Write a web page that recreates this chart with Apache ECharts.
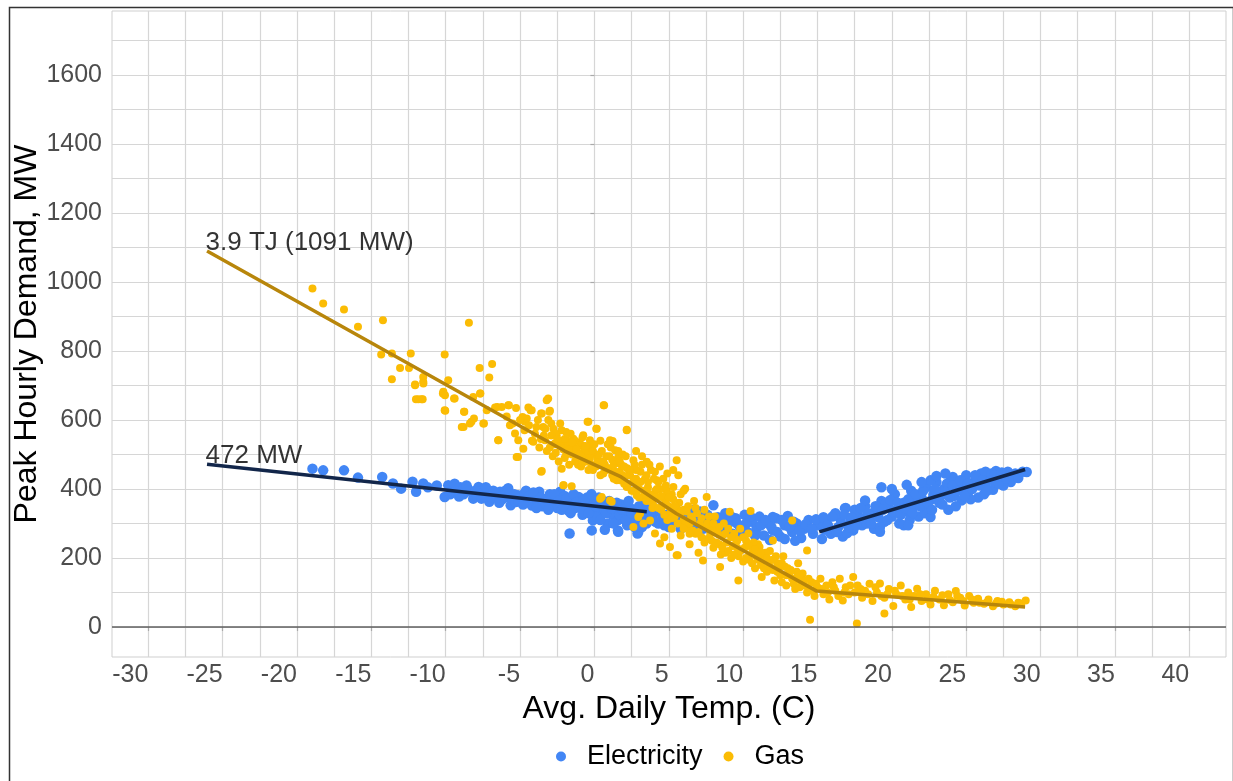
<!DOCTYPE html>
<html>
<head>
<meta charset="utf-8">
<script src="https://cdn.jsdelivr.net/npm/echarts@6/dist/echarts.min.js"></script>
<style>
html,body{margin:0;padding:0;background:#fff;}
#chart{width:1233px;height:781px;}
</style>
</head>
<body>
<div id="chart"></div>
<script>
// ---------- data ----------
const xMajorTicks = [-30,-25,-20,-15,-10,-5,0,5,10,15,20,25,30,35,40];
const xGridValues = [-30,-27.5,-25,-22.5,-20,-17.5,-15,-12.5,-10,-7.5,-5,-2.5,0,2.5,5,7.5,10,12.5,15,17.5,20,22.5,25,27.5,30,32.5,35,37.5,40];
const yMajorTicks = [0,200,400,600,800,1000,1200,1400,1600];
const yGridValues = [0,100,200,300,400,500,600,700,800,900,1000,1100,1200,1300,1400,1500,1600,1700];

const electricity = [
 [-18.96,459],[-18.24,454],[-16.84,454],[-15.9,433],[-14.27,435],[-13.55,416],[-13.0,401],[-12.23,421],[-11.51,416],[-11.99,392],
 [-11.2,405],[-10.6,410],[-9.83,411],[-10.07,377],[-9.23,392],[-8.51,401],[-7.79,406],[-7.43,382],[-8.15,372],[-7.07,363],
 [-6.35,392],[-5.87,377],[-5.63,353],[-5.14,382],[-4.43,367],[-3.71,392],[-3.23,372],[-2.62,377],[-2.02,363],[-1.78,338],
 [-1.06,377],[-0.58,338],[-0.1,309],[0.38,329],[-1.67,271],[1.58,280],[2.3,309],[2.9,271],[3.26,329],
 [-9.5,398],[-9.0,405],[-8.8,385],[-8.3,392],[-7.9,380],[-7.5,398],[-7.2,388],[-6.9,375],[-6.6,382],[-6.2,370],
 [-6.0,395],[-5.5,372],[-5.3,362],[-4.9,375],[-4.7,388],[-4.2,352],[-4.0,378],[-3.8,362],[-3.5,350],[-3.0,385],
 [-2.8,360],[-2.5,345],[-2.3,392],
 [-2.0,380],[-1.8,355],[-1.5,370],[-1.3,345],[-1.0,360],[-0.8,325],[-0.5,375],[-0.3,350],[0,365],[0,335],
 [0.2,318],[0.5,355],[0.7,340],[0.9,300],[1.0,365],[1.2,325],[1.4,345],[1.6,310],[1.8,355],[2.0,330],
 [2.2,295],[2.4,345],[2.6,320],[2.8,305],[3.0,350],[3.2,290],[3.4,335],[3.6,312],
 [-0.18,280],[1.6,276],[2.95,276],[0.7,282],
 [4.0,330],[4.3,300],[4.6,318],[5.0,290],[5.3,335],[5.6,305],[6.0,322],[6.3,292],[6.7,340],[7.0,310],
 [7.3,285],[7.6,325],[8.0,353],[8.0,300],
 [8.3,318],[8.5,280],[8.8,330],[9.0,300],[9.3,270],[9.5,315],[9.8,290],[10.1,325],[10.3,275],[10.6,305],
 [10.9,285],[11.1,320],[11.4,265],[11.7,300],[12.0,280],[12.2,315],[12.5,262],[12.8,295],[13.0,322],[13.3,275],
 [13.6,300],[13.9,258],[14.1,285],[14.4,310],[14.7,270],[15.0,295],[15.3,255],[15.5,282],[13.5,250],[12.8,255],
 [11.8,252],[12.0,319],
 [15.6,310],[15.9,270],[16.2,330],[16.4,290],[16.7,262],[16.9,345],[17.2,305],[17.4,280],[17.7,325],[18.0,295],
 [18.2,350],[18.5,315],[18.8,285],[19.0,335],[19.3,365],[19.5,305],[19.8,345],[20.0,320],[20.2,385],[20.5,300],
 [20.8,295],[20.8,360],[21.0,335],[21.3,395],[21.5,350],[21.8,320],[22.0,375],[22.3,405],[22.5,345],[22.8,385],
 [23.0,420],[23.2,360],[23.5,400],[23.8,340],[24.0,430],[24.2,380],[24.5,410],[24.7,367],[25.0,440],[25.2,395],
 [25.5,420],[25.8,375],[26.0,445],[26.3,410],[26.6,430],[26.8,398],[27.0,452],[27.3,425],[27.6,440],[28.0,420],
 [28.3,445],[29.07,449.5],
 [15.2,300],[15.8,285],[16.5,315],[17.0,272],[17.5,340],[18.3,300],[18.7,330],[19.2,290],[19.6,360],[20.3,340],
 [21.2,310],[21.7,365],[22.2,330],[22.7,370],[23.3,380],[23.7,415],[24.3,350],[24.8,395],[25.3,370],[25.7,430],
 [26.2,385],[26.9,420],[27.5,410],[27.8,450],
 [22.6,425],[24.1,435],[26.3,450],[27.1,435],[27.5,425],[18.2,367],[16.85,344],[19.2,276],[21.1,295],[22.6,319],
 [-9.7,385],[-9.4,415],[-9.1,378],[-8.6,410],[-8.0,395],[-7.6,372],[-7.3,405],[-6.8,395],[-6.4,360],[-6.1,380],
 [-5.8,402],[-5.4,385],[-5.1,365],
 [-4.8,355],[-4.6,395],[-4.4,380],[-4.1,390],[-3.9,345],[-3.6,375],[-3.3,358],[-3.1,340],[-2.9,372],[-2.7,385],
 [-2.4,365],[-2.2,340],[-2.1,350],[-1.9,372],[-1.6,330],[-1.4,385],[-1.2,362],[-0.9,345],[-0.7,368],[-0.4,330],
 [-0.2,385],[0.1,350],[0.3,375],
 [0.4,310],[0.6,365],[0.8,330],[1.1,345],[1.3,300],[1.5,360],[1.7,325],[1.9,340],[2.1,310],[2.3,365],
 [2.5,330],[2.7,290],[2.9,340],[3.1,315],[3.3,355],[3.5,300],[3.7,340],[3.9,320],
 [4.1,305],[4.4,340],[4.7,295],[4.9,325],[5.2,300],[5.5,340],[5.8,285],[6.1,310],[6.5,325],[6.8,295],
 [7.1,335],[7.4,300],[7.8,315],
 [8.2,295],[8.6,310],[8.9,275],[9.2,320],[9.6,300],[9.9,268],[10.2,300],[10.5,320],[10.8,265],[11.2,295],
 [11.5,310],[11.9,290],[12.3,275],[12.6,310],[13.1,290],[13.4,305],[13.8,280],[14.2,298],[14.6,285],[14.9,312],
 [15.4,318],
 [15.7,295],[16.0,320],[16.3,275],[16.6,300],[16.8,325],[17.1,290],[17.3,318],[17.6,295],[17.9,345],[18.1,315],
 [18.4,330],[18.6,300],[18.9,350],[19.1,318],[19.4,340],[19.7,310],[19.9,368],[20.1,335],[20.4,360],[20.6,325],
 [20.9,345],[21.1,370],[21.4,330],[21.6,385],[21.9,350],[22.1,395],[22.4,360],[22.7,340],[22.9,400],[23.1,370],
 [23.4,355],[23.6,392],[23.9,375],[24.1,410],[24.4,395],[24.6,425],[24.9,380],[25.1,415],[25.4,400],[25.6,440],
 [25.9,410],[26.1,425],[26.4,395],[26.7,445],[26.9,440],[27.2,415],[27.4,448],[27.7,430],[28.1,440],[28.5,432],
 [28.8,450],
 [19.3,405],[20.0,400],[21.0,412],[22.0,420],[23.0,438],[23.6,445]
];

const gas = [
 [-18.96,981],[-18.24,938],[-16.84,920],[-15.9,870],[-14.22,889],[-14.34,790],[-13.62,793],[-13.07,751],[-12.35,793],[-12.47,751],
 [-13.62,718],[-12.06,703],[-11.51,711],[-11.51,725],[-10.07,790],[-9.83,715],[-10.19,677],[-10.07,628],[-9.4,662],[-11.63,660],
 [-12.0,660],[-8.44,882],[-7.72,751],[-6.88,762],[-7.07,723],[-7.67,677],[-8.15,667],[-8.75,624],[-8.27,595],[-8.8,580],
 [-7.43,590],[-6.54,638],[-6.23,638],[-5.75,643],[-5.27,635],[-6.47,541],[-4.83,609],[-4.67,595],[-4.3,628],[-3.58,619],
 [-3.11,662],[-3.03,624],[-5.14,493],[-3.58,450],[-2.07,411],[0.62,643],[2.18,570],[1.22,539],[-0.46,595],[0.13,575],
 [-12.06,701],[-11.5,706],[-11.84,660],[-11.55,660],[-10.16,682],[-10.05,672],[-9.44,662],[-10.03,627],[-8.77,624],[-8.92,580],
 [-8.37,590],[-8.1,604],[-7.69,677],[-7.47,590],[-7.24,628],[-6.68,636],[-6.46,541],[-5.79,643],[-5.68,585],[-5.34,561],
 [-5.12,541],[-5.23,493],[-4.78,517],[-4.44,636],[-4.22,628],[-4.55,604],[-4.11,537],[-3.54,619],[-3.21,657],[-2.99,627],
 [-3.54,452],[-3.32,541],[-3.44,580],[-2.76,575],[-2.65,532],[-2.54,556],[-2.2,570],[-1.86,541],[-1.64,508],[-2.2,459],
 [-1.42,546],[-1.19,508],[-0.75,556],[-0.85,527],[-0.41,595],[-0.3,541],[0.15,575],[0.65,643],[1.05,541],[1.39,512],
 [1.61,493],[2.17,572],[2.62,483],[3.52,479],[4.07,450],[-2.09,411],[-1.53,408],[0.49,377],[1.05,367],[1.72,425],
 [2.17,406],[2.84,382],[3.52,396],[4.19,425],[4.63,430],[4.86,396],[5.31,406],[5.53,483],[5.64,440],[4.07,271],
 [4.41,242],[5.08,232],[5.53,208],[3.74,309],[3.07,329],[2.62,290],
 [-3.0,520],[-2.8,495],[-2.6,560],[-2.4,480],[-2.2,530],[-2.0,545],[-1.9,500],[-1.7,470],[-1.6,560],[-1.4,520],
 [-1.2,490],[-1.0,535],[-0.9,465],[-0.7,510],[-0.5,480],[-0.3,525],[-0.1,455],[0.1,500],[0.3,470],[0.4,540],
 [0.6,445],[0.8,495],[1.0,460],[1.1,520],[1.3,430],[1.5,475],[1.7,450],[1.9,500],[2.0,415],[2.2,460],
 [2.4,440],[2.5,395],[2.7,470],[2.9,420],[3.1,450],[3.3,375],[3.4,430],[3.6,405],[3.8,455],[3.9,360],
 [4.1,395],[4.3,420],[4.5,340],[4.6,375],[4.8,410],[5.0,350],[5.2,385],[5.4,320],[5.7,360],[5.9,300],[6.0,395],
 [2.95,319],[0.38,372],[1.16,363],[3.3,300],[4.7,260],[5.2,285],[3.9,345],[4.9,310],
 [2.8,510],[3.2,495],[3.7,470],[4.4,465],[4.9,445],[5.3,455],
 [5.6,208],[5.8,265],[6.0,340],[6.1,401],[6.2,290],[6.4,240],[6.5,320],[6.7,365],[6.8,270],[7.0,215],
 [7.1,300],[7.3,193],[7.4,340],[7.55,377],[7.6,255],[7.8,290],[8.0,230],[8.1,320],[8.3,270],[8.45,174],
 [8.5,210],[8.7,300],[8.9,245],[9.1,334],[9.2,200],[9.4,270],[9.6,230],[9.68,135],[9.8,285],[10.0,190],
 [10.2,250],[10.35,271],[10.5,336],[10.6,215],[10.8,170],[11.0,240],[11.1,232],[11.25,145],[11.4,200],[11.6,160],
 [11.8,220],[12.0,251],[12.1,135],[12.3,185],[12.5,150],[12.7,205],[12.9,120],[13.0,170],[13.3,309],[13.3,140],
 [13.5,110],[13.7,185],[13.9,130],[14.0,155],[14.3,222],[14.3,100],[14.5,21],[14.6,130],[14.8,90],[15.0,115],
 [15.2,140],[15.4,95],[15.6,120],[15.8,80],[16.0,130],[16.2,105],[16.5,140],[16.7,77],[16.9,115],[17.1,95],
 [17.4,145],[17.65,10],[17.7,120],[18.0,85],[18.2,105],[18.5,125],[18.7,75],[19.0,100],[19.2,126],[19.5,39],
 [19.5,85],[19.8,110],[20.1,61],[20.3,95],[20.6,120],[20.9,80],[21.1,100],[21.3,58],[21.5,90],[21.7,111],
 [22.0,75],[22.3,95],[22.6,65],[22.9,105],[23.2,80],[23.5,63],[23.8,95],[24.1,72],[24.3,104],[24.6,85],
 [24.9,62],[25.2,90],[25.5,70],[25.8,82],[26.2,67],[26.5,80],[26.8,60],[27.1,75],[27.5,65],[27.9,72],
 [28.3,60],[28.7,68],[29.0,77],
 [-5.9,610],[-5.5,590],[-5.0,600],[-4.7,570],[-4.4,585],[-4.0,560],[-3.8,600],[-3.6,545],[-3.3,575],[-3.1,600],
 [-2.9,555],[-2.7,530],[-2.3,590],[-2.1,515],
 [-1.8,525],[-1.5,500],[-1.3,540],[-1.1,470],[-0.8,550],[-0.6,490],[-0.4,505],[-0.2,470],[0,530],[0.2,485],
 [0.5,510],[0.7,470],[0.9,530],[1.2,485],[1.4,450],[1.6,510],[1.8,470],[2.1,495],[2.3,440],
 [2.6,420],[2.8,455],[3.0,400],[3.2,470],[3.5,440],[3.7,385],[4.0,430],[4.2,375],[4.4,400],[4.7,355],
 [4.9,385],[5.1,330],[5.3,370],[5.6,340],[5.8,385],[6.0,310],
 [6.3,350],[6.4,300],[6.6,280],[6.9,330],[7.2,260],[7.5,290],[7.7,320],[7.9,250],[8.2,280],[8.4,240],
 [8.6,265],[8.8,215],[9.0,285],[9.3,235],[9.5,255],[9.7,205],[10.1,230],[10.4,195],
 [10.7,245],[10.9,205],[11.2,180],[11.5,215],[11.7,190],[12.0,165],[12.2,205],[12.4,170],[12.6,130],[12.8,175],
 [13.1,150],[13.4,125],[13.6,160],[13.8,115],[14.1,135],[14.4,115],[14.7,105],[14.9,125],
 [15.3,110],[15.7,100],[16.1,115],[16.4,90],[16.8,100],[17.2,120],[17.5,100],[17.9,110],[18.4,95],[18.9,115],
 [19.3,90],[19.7,95],[20.2,105],[20.7,90],[21.2,80],[21.9,95],[22.4,80],[22.8,88],[23.4,92],[23.9,78],
 [24.4,90],[24.8,75],[25.4,80],[25.9,70],[26.4,72],[27.0,68],[27.4,73],[28.0,65],[28.5,70],
 [-4.2,540],[-3.9,580],[-3.7,520],[-3.4,555],[-3.2,510],[-2.9,590],[-2.6,505],[-2.5,545],[-2.3,525],[-2.0,490],
 [-1.9,565],[-1.7,515],[-1.5,535],[-1.3,480],[-1.2,515],[-1.0,500],[-0.8,475],[-0.6,525],[-0.4,455],[-0.3,490],
 [-0.1,510],[0.1,465],[0.3,500],[0.4,440],[0.6,480],[0.8,455],[1.0,495],[1.2,440],[1.3,470],[1.5,425],
 [1.7,480],[1.9,440],[2.0,465],[2.2,410],[2.4,455],[2.6,395],[2.8,430],[3.0,375],[3.1,420],[3.3,395],
 [3.5,365],[3.6,420],[3.8,380],[4.0,350],[4.2,400],[4.3,345],[4.5,380],[4.7,325],[4.8,360],[5.0,375],
 [5.2,315],[5.4,350],[5.6,300],[5.8,330],[6.0,285],[6.2,335],[6.4,270],[6.6,310],[6.8,345],[7.0,275],
 [7.2,315],[7.4,245],[7.6,300],[7.8,270],[8.0,300],[8.2,245],[8.4,290],[8.6,230],[8.8,270],[9.0,220],
 [9.2,260],[9.4,210],[9.6,250],[9.8,220],[10.0,260],[10.2,200],[10.4,235],[10.6,185],[10.8,225],[11.0,195],
 [11.2,215],[11.4,170],[11.6,200],[11.8,175],[12.0,195],[12.3,160],[12.6,185],[12.9,150],[13.2,165],[13.5,140],
 [13.8,150],[14.1,120],[14.4,140]
];

const gasFit = [[-26.05,1090],[-2.0,510],[1.8,435],[5.5,329],[14.95,104],[28.96,58]];
const elecFitCold = [[-26.05,472],[3.52,334]];
const elecFitWarm = [[15.12,275.5],[28.96,456.5]];
const annotations = [[-26.05,1090,'3.9 TJ (1091 MW)'],[-26.05,472,'472 MW']];

// ---------- chart ----------
const FONT = '"Liberation Sans", Arial, sans-serif';
const chart = echarts.init(document.getElementById('chart'), null, {renderer:'canvas'});
const X_MIN = -32.44, X_MAX = 42.47, Y_MIN = -87, Y_MAX = 1785.6;

chart.setOption({
  animation:false,
  backgroundColor:'#ffffff',
  textStyle:{fontFamily:FONT},
  graphic:[{type:'rect', left:7, top:5, silent:true, z:-10,
    shape:{width:1224, height:800}, style:{fill:'none', stroke:'#333', lineWidth:1.5}}],
  grid:{left:112, right:7, top:11, bottom:124, show:true, borderColor:'#cfcfcf', borderWidth:1,
        backgroundColor:'#fff', containLabel:false, outerBoundsMode:'none'},
  legend:{
    data:['Electricity','Gas'], left:556, top:743, icon:'circle', itemWidth:42, itemHeight:10, itemGap:21, padding:0,
    textStyle:{fontSize:27, color:'#000', fontFamily:FONT}
  },
  xAxis:[{
    type:'value', min:X_MIN, max:X_MAX,
    name:'Avg. Daily Temp. (C)', nameLocation:'middle', nameGap:32,
    nameTextStyle:{fontSize:32, color:'#000', fontFamily:FONT},
    axisLine:{show:false},
    axisTick:{show:false, customValues:xGridValues},
    axisLabel:{customValues:xMajorTicks, align:'right', fontSize:25, color:'#4d4d4d', margin:6, fontFamily:FONT,
               formatter:v=>String(v)},
    splitLine:{show:true, lineStyle:{color:'#d6d6d6', width:1.2}}
  },{
    type:'value', min:X_MIN, max:X_MAX, position:'bottom',
    axisLine:{show:false}, axisLabel:{show:false}, splitLine:{show:false},
    axisTick:{show:true, customValues:xMajorTicks, length:4, lineStyle:{color:'#aaa', width:1.2}}
  }],
  yAxis:[{
    type:'value', min:Y_MIN, max:Y_MAX,
    name:'Peak Hourly Demand, MW', nameLocation:'middle', nameGap:69, nameMoveOverlap:false,
    nameTextStyle:{fontSize:32, color:'#000', fontFamily:FONT},
    axisLine:{show:false},
    axisTick:{show:false, customValues:yGridValues},
    axisLabel:{customValues:yMajorTicks, fontSize:25, color:'#4d4d4d', margin:10, fontFamily:FONT,
               formatter:v=>String(v)},
    splitLine:{show:true, lineStyle:{color:'#d6d6d6', width:1.2}}
  },{
    type:'value', min:Y_MIN, max:Y_MAX, position:'left',
    axisLine:{show:false}, axisLabel:{show:false}, splitLine:{show:false},
    axisTick:{show:true, customValues:yMajorTicks, length:4, lineStyle:{color:'#aaa', width:1.2}}
  }],
  series:[
    {name:'Electricity', type:'scatter', data:electricity, symbolSize:10.5,
     itemStyle:{color:'#4286F5', opacity:1}, z:2,
     markLine:{silent:true, symbol:'none', label:{show:false}, data:[{yAxis:0}],
       lineStyle:{color:'#5f5f5f', width:1.5, type:'solid'}}},
    {name:'Gas', type:'scatter', data:gas, symbolSize:8, itemStyle:{color:'#FBBC04', opacity:1}, z:3},
    {name:'elecFitCold', type:'line', data:elecFitCold, showSymbol:false, symbol:'none',
     lineStyle:{color:'#12264A', width:3.5}, z:4},
    {name:'elecFitWarm', type:'line', data:elecFitWarm, showSymbol:false, symbol:'none',
     lineStyle:{color:'#12264A', width:3.5}, z:4},
    {name:'gasFit', type:'line', data:gasFit, showSymbol:false, symbol:'none',
     lineStyle:{color:'#B8860B', width:3.5}, z:5},
    {name:'annot', type:'scatter', data:annotations, symbolSize:1, itemStyle:{color:'rgba(0,0,0,0)'}, z:6,
     label:{show:true, position:[0,0], align:'left', verticalAlign:'bottom', offset:[-1,5],
       formatter:p=>p.value[2], fontSize:26, color:'#000', fontFamily:FONT}}
  ]
});
</script>
</body>
</html>
